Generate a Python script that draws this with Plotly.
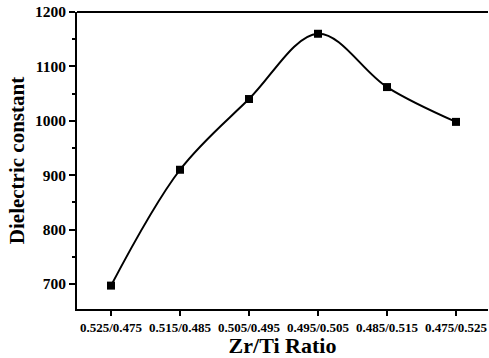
import plotly.graph_objects as go

categories = ["0.525/0.475", "0.515/0.485", "0.505/0.495", "0.495/0.505", "0.485/0.515", "0.475/0.525"]
dielectric = [697, 910, 1040, 1160, 1062, 998]
y_ticks = [700, 800, 900, 1000, 1100, 1200]

x_idx = list(range(len(categories)))

fig = go.Figure()
fig.add_trace(go.Scatter(
    x=x_idx, y=dielectric, mode="lines+markers",
    line=dict(color="black", width=2, shape="spline", smoothing=1.0),
    marker=dict(symbol="square", size=8, color="black"),
    showlegend=False,
))

font_serif = "Liberation Serif"
fig.update_layout(
    width=489, height=358,
    margin=dict(l=77, r=1, t=12, b=49),
    plot_bgcolor="white", paper_bgcolor="white",
    font=dict(family=font_serif, color="black"),
)
fig.update_xaxes(
    range=[-0.493, 5.464],
    tickvals=x_idx, ticktext=[f"<b>{c}</b>" for c in categories],
    tickfont=dict(size=13, family=font_serif),
    ticks="outside", ticklen=5, tickwidth=1.5, tickcolor="black",
    showline=True, linecolor="black", linewidth=2, mirror=False,
    showgrid=False, zeroline=False,
    title=dict(text="<b>Zr/Ti Ratio</b>", font=dict(size=22, family=font_serif), standoff=2),
)
fig.update_yaxes(
    range=[654, 1200],
    tickvals=y_ticks, ticktext=[f"<b>{v}</b>" for v in y_ticks],
    tickfont=dict(size=15.5, family=font_serif),
    ticks="outside", ticklen=6, tickwidth=1.5, tickcolor="black",
    minor=dict(ticks="outside", ticklen=3, dtick=50, tick0=0, tickcolor="black", tickwidth=1.5, showgrid=False),
    showline=True, linecolor="black", linewidth=2,
    showgrid=False, zeroline=False,
    title=dict(text="<b>Dielectric constant</b>", font=dict(size=21, family=font_serif), standoff=5),
)
# top border line
fig.add_shape(type="line", xref="paper", yref="paper", x0=0, x1=1, y0=1, y1=1,
              line=dict(color="black", width=2))

fig.write_html("out.html")
